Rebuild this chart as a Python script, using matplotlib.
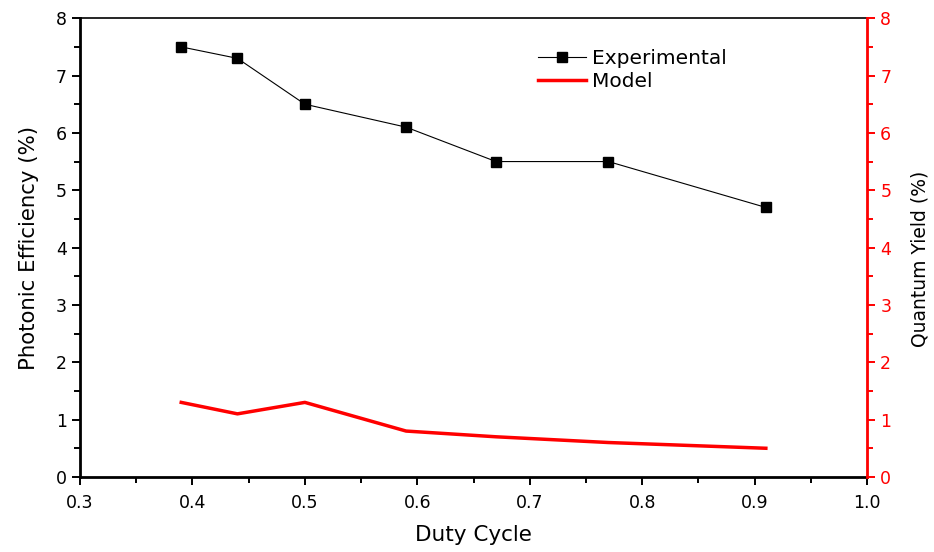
import numpy as np
import matplotlib.pyplot as plt
from matplotlib.ticker import MultipleLocator

plt.rcParams['font.family'] = ['DejaVu Sans']

duty = [0.39, 0.44, 0.50, 0.59, 0.67, 0.77, 0.91]
experimental = [7.5, 7.3, 6.5, 6.1, 5.5, 5.5, 4.7]
model = [1.3, 1.1, 1.3, 0.8, 0.7, 0.6, 0.5]

fig = plt.figure(figsize=(9.34, 5.52), dpi=100)
ax = fig.add_axes([0.0857, 0.136, 0.8426, 0.831])
ax2 = ax.twinx()

l1, = ax.plot(duty, experimental, color='black', lw=0.8, marker='s', ms=7,
              label='Experimental')
l2, = ax2.plot(duty, model, color='red', lw=2.5, label='Model')

ax.set_xlim(0.3, 1.0)
ax.set_ylim(0, 8)
ax2.set_ylim(0, 8)
ax.xaxis.set_major_locator(MultipleLocator(0.1))
ax.xaxis.set_minor_locator(MultipleLocator(0.05))
for a in (ax, ax2):
    a.yaxis.set_major_locator(MultipleLocator(1))
    a.yaxis.set_minor_locator(MultipleLocator(0.5))

ax.tick_params(which='major', direction='out', length=6, width=1.4, labelsize=12.5)
ax.tick_params(which='minor', direction='out', length=4, width=1.4)
ax.tick_params(axis='x', pad=6)
ax2.tick_params(which='major', direction='out', length=6, width=1.4, labelsize=12.5,
                colors='red')
ax2.tick_params(which='minor', direction='out', length=4, width=1.4, colors='red')

for s in ('left', 'bottom'):
    ax.spines[s].set_linewidth(2)
ax.spines['top'].set_linewidth(1.2)
ax2.spines['right'].set_color('red')
ax2.spines['right'].set_linewidth(2)
ax2.spines['left'].set_visible(False)
ax2.spines['top'].set_visible(False)
ax2.spines['bottom'].set_visible(False)

ax.set_xlabel('Duty Cycle', fontsize=15.5, labelpad=10)
ax.set_ylabel('Photonic Efficiency (%)', fontsize=15.3, labelpad=12)
ax2.set_ylabel('Quantum Yield (%)', fontsize=13.5)
ax2.yaxis.set_label_coords(1.0546, 0.476)

ax.legend([l1, l2], ['Experimental', 'Model'], loc='upper left',
          bbox_to_anchor=(0.5686, 0.955), frameon=False, fontsize=14.5,
          handlelength=2.4, handletextpad=0.3, labelspacing=0.2, borderpad=0)

fig.savefig('out.png', dpi=100)
